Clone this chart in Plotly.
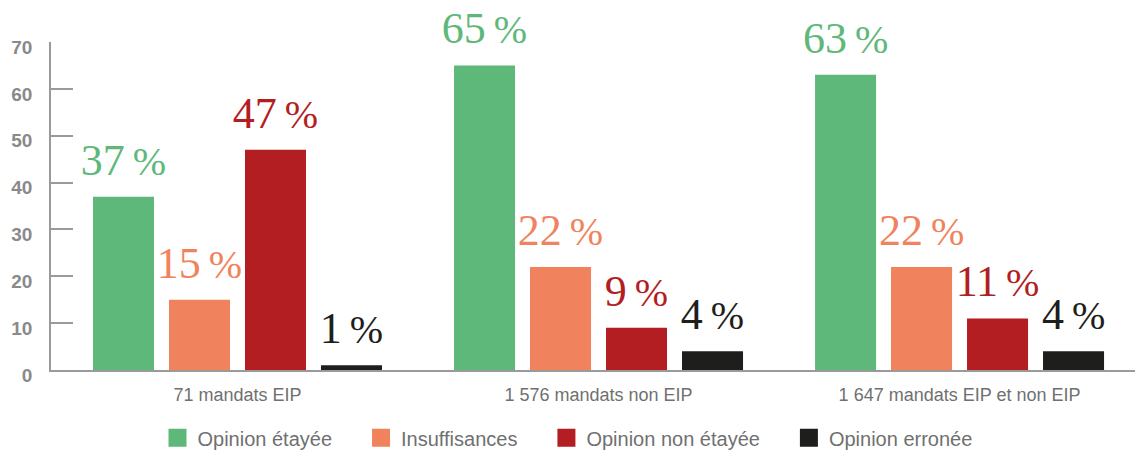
import plotly.graph_objects as go

# Categories (audit mandates) and the four opinion series, in percent
categories = ["71 mandats EIP", "1 576 mandats non EIP", "1 647 mandats EIP et non EIP"]
series_names = ["Opinion étayée", "Insuffisances", "Opinion non étayée", "Opinion erronée"]
opinion_etayee = [37, 65, 63]
insuffisances = [15, 22, 22]
opinion_non_etayee = [47, 9, 11]
opinion_erronee = [1, 4, 4]
y_ticks = [0, 10, 20, 30, 40, 50, 60, 70]

colors = ["#5eb87a", "#f0835d", "#b31e22", "#1e1e1c"]
series_values = [opinion_etayee, insuffisances, opinion_non_etayee, opinion_erronee]

AXIS_GREY = "#9a9a9a"
TEXT_GREY = "#707070"
SERIF = "Liberation Serif, DejaVu Serif, serif"
SANS = "Liberation Sans, Arial, sans-serif"


def pct_label(v):
    return (f"<span style='font-size:44px'>{v}</span>"
            f"<span style='font-size:40px'>\u2009%</span>")


fig = go.Figure()

for name, vals, col in zip(series_names, series_values, colors):
    fig.add_trace(go.Bar(
        x=categories,
        y=vals,
        name=name,
        marker=dict(color=col, line=dict(width=0)),
        showlegend=False,
        hoverinfo="skip",
    ))

# Percentage labels, grouped alongside the bars; the transparent marker
# keeps a little air between the bar top and the label
for name, vals, col in zip(series_names, series_values, colors):
    fig.add_trace(go.Scatter(
        x=categories,
        y=vals,
        mode="markers+text",
        marker=dict(size=16, opacity=0),
        text=[pct_label(v) for v in vals],
        textposition="top center",
        textfont=dict(family=SERIF, size=44, color=col),
        cliponaxis=False,
        showlegend=False,
        hoverinfo="skip",
    ))

# Legend entries with larger square swatches (kept on hidden axes so they
# do not take part in the label grouping); wider spacing between entries
n_series = len(series_names)
for i, (name, col) in enumerate(zip(series_names, colors)):
    pad = "\u2003\u2009" if i < n_series - 1 else ""
    fig.add_trace(go.Scatter(
        x=[None], y=[None],
        xaxis="x2", yaxis="y2",
        mode="markers",
        name=name + pad,
        marker=dict(symbol="square", size=16, color=col, line=dict(color=col, width=2)),
        showlegend=True,
    ))

fig.update_layout(
    width=1135,
    height=450,
    margin=dict(l=51, r=0, t=42, b=80),
    paper_bgcolor="white",
    plot_bgcolor="white",
    barmode="group",
    bargap=0.158,
    bargroupgap=0.197,
    scattermode="group",
    scattergap=0.158,
    legend=dict(
        orientation="h",
        xref="container", yref="container",
        x=0.5, xanchor="center",
        y=0.027, yanchor="middle",
        font=dict(family=SANS, size=20, color=TEXT_GREY),
        itemclick=False,
    ),
    xaxis=dict(
        type="category",
        range=[-0.5166, 2.486],
        showline=True,
        linecolor=AXIS_GREY,
        linewidth=1.5,
        ticks="",
        showgrid=False,
        tickfont=dict(family=SANS, size=18, color=TEXT_GREY),
        ticklabelstandoff=8,
    ),
    yaxis=dict(
        range=[0, 70],
        tickvals=y_ticks,
        ticks="inside",
        ticklen=22,
        tickwidth=1.5,
        tickcolor=AXIS_GREY,
        showline=True,
        linecolor=AXIS_GREY,
        linewidth=1.5,
        showgrid=False,
        zeroline=False,
        tickfont=dict(family=SANS, size=19, color="#8a8a8a", weight="bold"),
        ticklabelstandoff=13,
        ticklabelshift=5,
    ),
    xaxis2=dict(overlaying="x", visible=False, range=[0, 1]),
    yaxis2=dict(overlaying="y", visible=False, range=[0, 1]),
)

fig.write_html("out.html")
